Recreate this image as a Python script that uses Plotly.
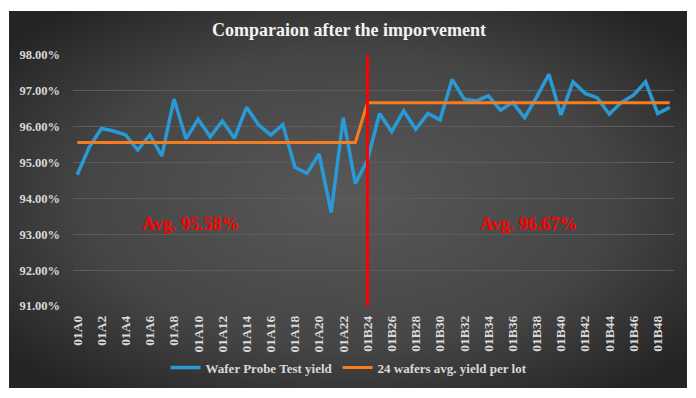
import base64
import plotly.graph_objects as go

categories = [f"01A{i}" for i in range(24)] + [f"01B{i}" for i in range(24, 50)]

yield_values = [
    94.66, 95.43, 95.95, 95.88, 95.77, 95.35, 95.77, 95.19, 96.77, 95.66,
    96.21, 95.72, 96.16, 95.68, 96.54, 96.05, 95.77, 96.06, 94.87, 94.70,
    95.24, 93.61, 96.25, 94.42,
    95.07, 96.37, 95.86, 96.44, 95.93, 96.37, 96.19, 97.32, 96.77, 96.72,
    96.86, 96.46, 96.68, 96.25, 96.83, 97.46, 96.33, 97.25, 96.93, 96.81,
    96.35, 96.68, 96.88, 97.25, 96.37, 96.54,
]

avg_before = 95.56
avg_after = 96.67
avg_values = [avg_before] * 24 + [avg_after] * 26

tick_labels = categories[::2]

divider_category = "01B24"
y_min, y_max = 91, 98

svg = """<svg xmlns='http://www.w3.org/2000/svg' width='678' height='377' preserveAspectRatio='none'>
<defs><radialGradient id='g' cx='50%' cy='50%' r='65%'>
<stop offset='0%' stop-color='#585858'/>
<stop offset='60%' stop-color='#454545'/>
<stop offset='100%' stop-color='#242424'/>
</radialGradient></defs>
<rect width='678' height='377' fill='url(#g)'/></svg>"""
bg_src = "data:image/svg+xml;base64," + base64.b64encode(svg.encode()).decode()

font_family = "Liberation Serif"

fig = go.Figure()

fig.add_trace(go.Scatter(
    x=categories, y=yield_values, mode="lines",
    name="<b>Wafer Probe Test yield</b>",
    line=dict(color="#2a9ad6", width=3.5),
))
fig.add_trace(go.Scatter(
    x=categories, y=avg_values, mode="lines",
    name="<b>24 wafers avg. yield per lot</b>",
    line=dict(color="#f57d20", width=3),
))
fig.add_trace(go.Scatter(
    x=[divider_category, divider_category], y=[y_min, y_max], mode="lines",
    showlegend=False, hoverinfo="skip",
    line=dict(color="#ff0000", width=3),
))

L, T, W, H = 73, 55, 601, 251
fig.add_layout_image(dict(
    source=bg_src, xref="paper", yref="paper",
    x=(9 - L) / W, y=(T + H - 11) / H,
    sizex=678 / W, sizey=377 / H,
    xanchor="left", yanchor="top", sizing="stretch", layer="below",
))

fig.add_annotation(x=9.4, y=93.28, text="<b>Avg. 95.58%</b>", showarrow=False,
                   font=dict(family=font_family, size=18, color="#ff0000"))
fig.add_annotation(x=37.3, y=93.28, text=f"<b>Avg. {avg_after:.2f}%</b>", showarrow=False,
                   font=dict(family=font_family, size=18, color="#ff0000"))

fig.update_layout(
    width=696, height=398,
    margin=dict(l=L, r=696 - L - W, t=T, b=398 - T - H, autoexpand=False),
    paper_bgcolor="white",
    plot_bgcolor="rgba(0,0,0,0)",
    title=dict(text="<b>Comparaion after the imporvement</b>", x=(349 - L) / W, xref="paper",
               y=1 - 30 / 398, yanchor="middle", xanchor="center",
               font=dict(family=font_family, size=18, color="#f2f2f2")),
    font=dict(family=font_family, color="#d9d9d9"),
    showlegend=True,
    legend=dict(orientation="h", x=(349 - L) / W, xanchor="center",
                y=-0.245, yanchor="middle",
                font=dict(family=font_family, size=13, color="#d9d9d9"),
                bgcolor="rgba(0,0,0,0)", itemwidth=30),
    xaxis=dict(
        type="category", categoryorder="array", categoryarray=categories,
        range=[-0.35, 49.35],
        tickmode="array", tickvals=tick_labels, ticktext=[f"<b>{t}</b>" for t in tick_labels],
        tickangle=-90, tickfont=dict(family=font_family, size=13.5, color="#d9d9d9"),
        showgrid=False, zeroline=False, showline=False, ticks="", ticklabelstandoff=6,
    ),
    yaxis=dict(
        range=[y_min, y_max], dtick=1, tickformat=".2f",
        tickprefix="<b>", ticksuffix="%</b>",
        tickfont=dict(family=font_family, size=12.5, color="#d9d9d9"),
        showgrid=True, gridcolor="#5c5c5c", gridwidth=1,
        zeroline=False, showline=False, ticks="", ticklabelstandoff=12,
    ),
)

fig.write_html("out.html")
